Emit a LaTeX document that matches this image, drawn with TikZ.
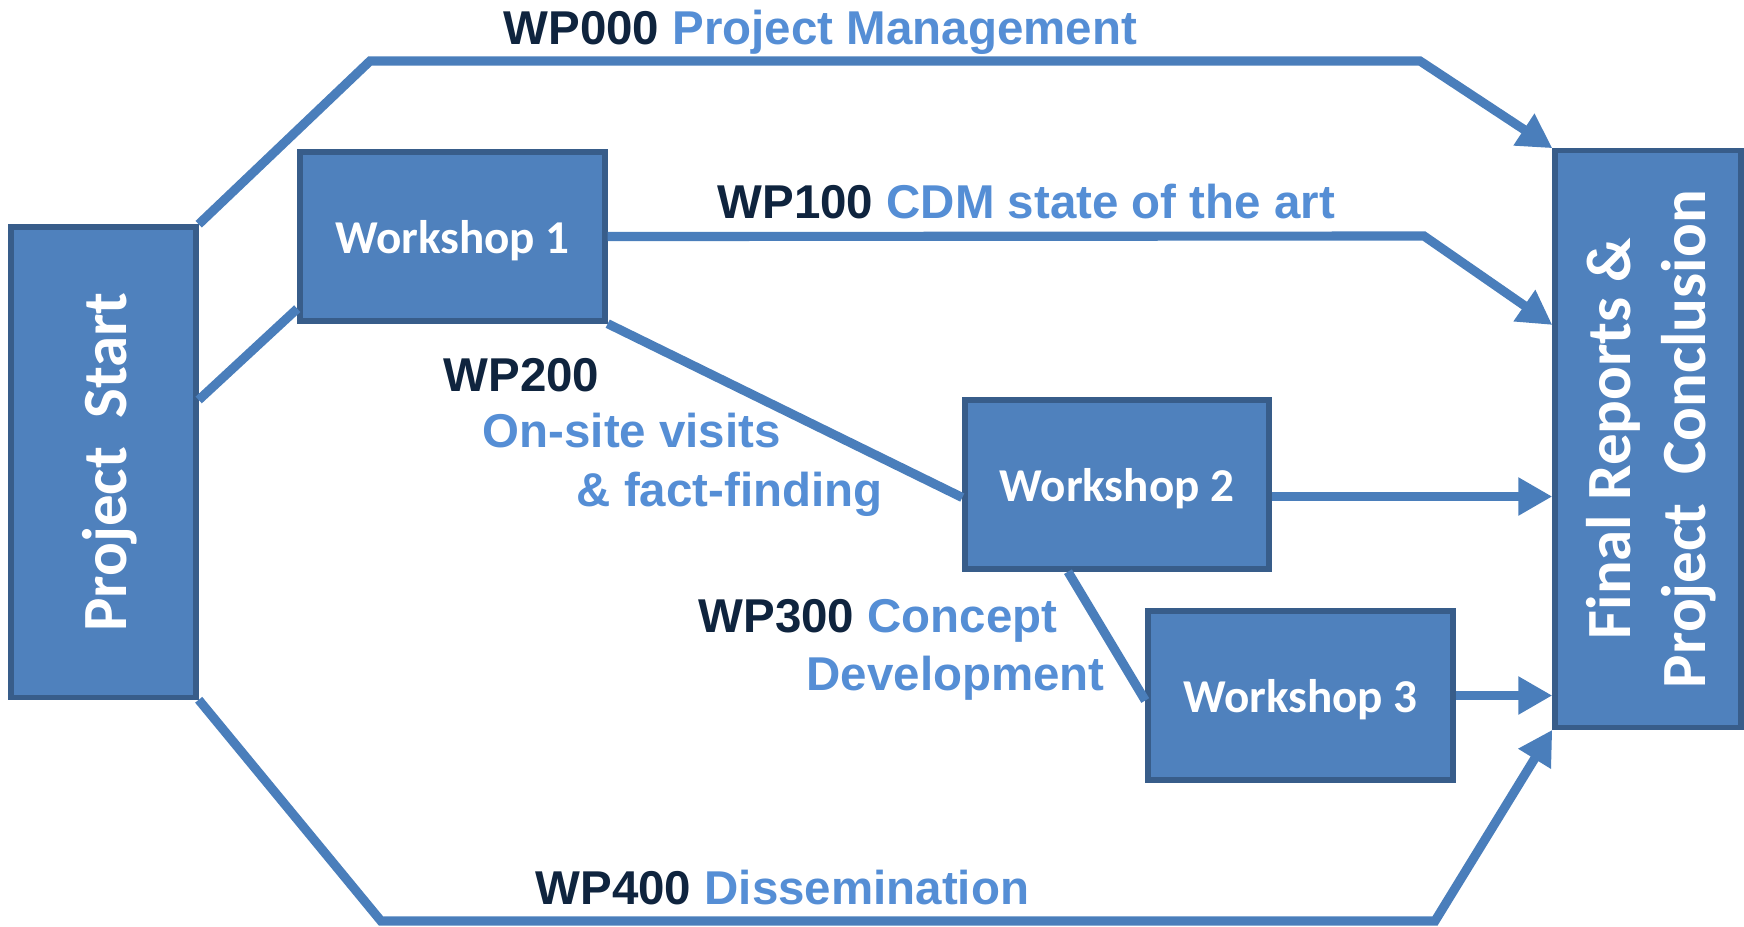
\documentclass[tikz,border=0pt]{standalone}
\usepackage{fontspec}
\setmainfont{Liberation Sans}
\newfontfamily\calibri{Carlito}
\usetikzlibrary{arrows.meta, positioning}
\definecolor{boxfill}{HTML}{4F81BD}
\definecolor{boxline}{HTML}{385D8A}
\definecolor{flowline}{HTML}{4A7EBB}
\definecolor{wpdark}{HTML}{0F243E}
\definecolor{wpblue}{HTML}{558ED5}
\tikzstyle{workshop} = [draw=boxline, fill=boxfill, line width=1.5pt, rectangle, inner sep=0pt, text=white, text depth=0pt, font=\calibri\bfseries\fontsize{13.4}{16}\selectfont]
\tikzstyle{phase} = [workshop, font=\calibri\bfseries\fontsize{17.9}{21.3}\selectfont]
\tikzstyle{flow} = [draw=flowline, line width=2.6pt]
\tikzstyle{flowarrow} = [flow, -{Triangle[length=0.34cm, width=0.36cm]}]
\tikzstyle{wplabel} = [anchor=base west, inner sep=0pt, font=\bfseries\fontsize{13.5}{16}\selectfont]
\begin{document}
\begin{tikzpicture}[x=0.01cm, y=-0.01cm]
	\useasboundingbox (0,0) rectangle (1744,926);
	\node [phase, minimum width=1.85cm, minimum height=4.7cm] (start) at (103.5,462) {\hspace{0.12cm}\rotatebox{90}{Project\ \ Start}};
	\node [phase, minimum width=1.86cm, minimum height=5.76cm] (final) at (1648,439) {\hspace{0.1cm}\rotatebox{90}{\begin{tabular}{@{}c@{}}Final Reports \&\\Project\ \ Conclusion\end{tabular}}};
	\node [workshop, minimum width=3.05cm, minimum height=1.69cm] (w1) at (452.5,236.5) {Workshop 1};
	\node [workshop, minimum width=3.04cm, minimum height=1.69cm] (w2) at (1117,484.5) {Workshop 2};
	\node [workshop, minimum width=3.05cm, minimum height=1.69cm] (w3) at (1300.5,695.5) {Workshop 3};
	\coordinate (w2out) at ([yshift=-0.12cm]w2.east);
	\draw [flowarrow] (start.north east) -- (370,61) -- (1420,61) -- (final.north west);
	\draw [flowarrow] (w1.east) -- (1424,236) -- ([yshift=1.14cm]final.west);
	\draw [flow] ([yshift=0.62cm]start.east) -- ([yshift=0.15cm]w1.south west);
	\draw [flow] (w1.south east) -- ([yshift=-0.13cm]w2.west);
	\draw [flowarrow] (w2out) -- (w2out -| final.west);
	\draw [flow] ([xshift=-0.49cm]w2.south) -- ([yshift=-0.05cm]w3.west);
	\draw [flowarrow] (w3.east) -- (w3.east -| final.west);
	\draw [flowarrow] (start.south east) -- (381,921) -- (1435,921) -- (final.south west);
	\node [wplabel] (wp000) at (503,44.5) {{\color{wpdark}WP000} {\color{wpblue}Project Management}};
	\node [wplabel] (wp100) at (717,218) {{\color{wpdark}WP100} {\color{wpblue}CDM state of the art}};
	\node [wplabel, text=wpdark] (wp200) at (443,391.5) {WP200};
	\node [wplabel, text=wpblue] (wp200a) at (482,447) {On-site visits};
	\node [wplabel, text=wpblue] (wp200b) at (576,506) {\& fact-finding};
	\node [wplabel] (wp300) at (698,632) {{\color{wpdark}WP300} {\color{wpblue}Concept}};
	\node [wplabel, text=wpblue] (wp300b) at (806,690) {Development};
	\node [wplabel] (wp400) at (535,904) {{\color{wpdark}WP400} {\color{wpblue}Dissemination}};
\end{tikzpicture}
\end{document}
